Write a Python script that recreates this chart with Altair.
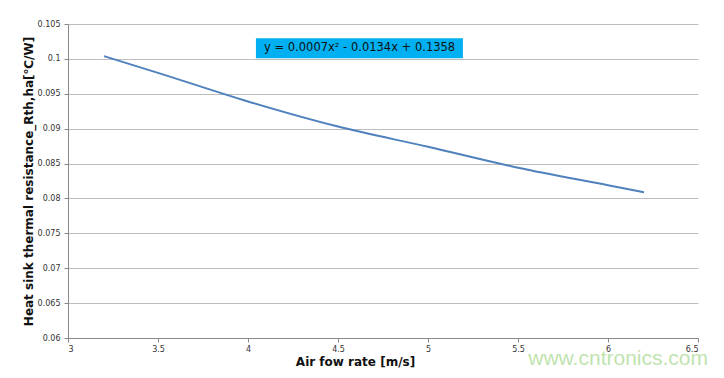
import altair as alt
import pandas as pd

# Data
air_flow = [3.2, 3.5, 4.0, 4.5, 5.0, 5.5, 6.0, 6.2]
resistance = [0.1004, 0.0980, 0.0939, 0.0903, 0.0874, 0.0844, 0.0819, 0.0809]

x_ticks = [3, 3.5, 4, 4.5, 5, 5.5, 6, 6.5]
y_ticks = [0.06, 0.065, 0.07, 0.075, 0.08, 0.085, 0.09, 0.095, 0.1, 0.105]

equation_text = ["y = 0.0007x² - 0.0134x + 0.1358"]
eq_box_x = [4.044]
eq_box_x2 = [5.194]
eq_box_y = [0.10294]
eq_box_y2 = [0.1001]
eq_text_x = [4.62]
eq_text_y = [0.10152]

watermark = ["www.cntronics.com"]

df = pd.DataFrame({"x": air_flow, "y": resistance})
eq_df = pd.DataFrame({"x": eq_box_x, "x2": eq_box_x2, "y": eq_box_y, "y2": eq_box_y2,
                      "tx": eq_text_x, "ty": eq_text_y, "t": equation_text})

xscale = alt.Scale(domain=[3, 6.5], nice=False, zero=False)
yscale = alt.Scale(domain=[0.06, 0.105], nice=False, zero=False)

font = "DejaVu Sans"

x_axis = alt.Axis(title="Air fow rate [m/s]", values=x_ticks, grid=False,
                  format=".2~g", labelFontSize=8, labelFont=font, labelColor="#333",
                  labelOverlap=False,
                  tickSize=4, tickColor="#888", domainColor="#888",
                  labelPadding=3,
                  titleFont=font, titleFontSize=12, titleFontWeight="bold",
                  titleColor="#111", titleX=287, titleY=23, titleAlign="center",
                  titleBaseline="middle")
y_axis = alt.Axis(title="Heat sink thermal resistance_Rth,ha[℃/W]", values=y_ticks,
                  format=".3~g", labelFontSize=8, labelFont=font, labelColor="#333",
                  labelOverlap=False, grid=True,
                  tickSize=4, tickColor="#888", domainColor="#888",
                  gridColor="#BDBDBD", gridWidth=1.2, labelPadding=4,
                  titleFont=font, titleFontSize=12, titleFontWeight="bold",
                  titleColor="#111", titleX=-40, titleY=157, titleAlign="center",
                  titleAngle=270, titleBaseline="middle")

line = alt.Chart(df).mark_line(color="#4F81BD", strokeWidth=2, interpolate="monotone").encode(
    x=alt.X("x:Q", scale=xscale, axis=x_axis),
    y=alt.Y("y:Q", scale=yscale, axis=y_axis),
)

box = alt.Chart(eq_df).mark_rect(color="#00B0F0").encode(
    x=alt.X("x:Q", scale=xscale, axis=x_axis), x2="x2:Q",
    y=alt.Y("y:Q", scale=yscale, axis=y_axis), y2="y2:Q"
)
label = alt.Chart(eq_df).mark_text(font=font, fontSize=11.5, color="#111",
                                   align="center", baseline="middle").encode(
    x=alt.X("tx:Q", scale=xscale, axis=x_axis),
    y=alt.Y("ty:Q", scale=yscale, axis=y_axis),
    text="t:N"
)

wm = alt.Chart(pd.DataFrame({"t": watermark})).mark_text(
    font="Liberation Sans", fontSize=21, color="#BFE3B0", align="right", baseline="middle"
).encode(x=alt.value(640), y=alt.value(335), text="t:N")

chart = alt.layer(line, box, label, wm).properties(
    width=630, height=314,
    autosize=alt.AutoSizeParams(type="none"),
    padding={"left": 60, "top": 16, "right": 10, "bottom": 32},
).configure(background="white").configure_view(strokeWidth=0, stroke="transparent")

chart.save("out.html", embed_options={"renderer": "svg", "actions": False})
